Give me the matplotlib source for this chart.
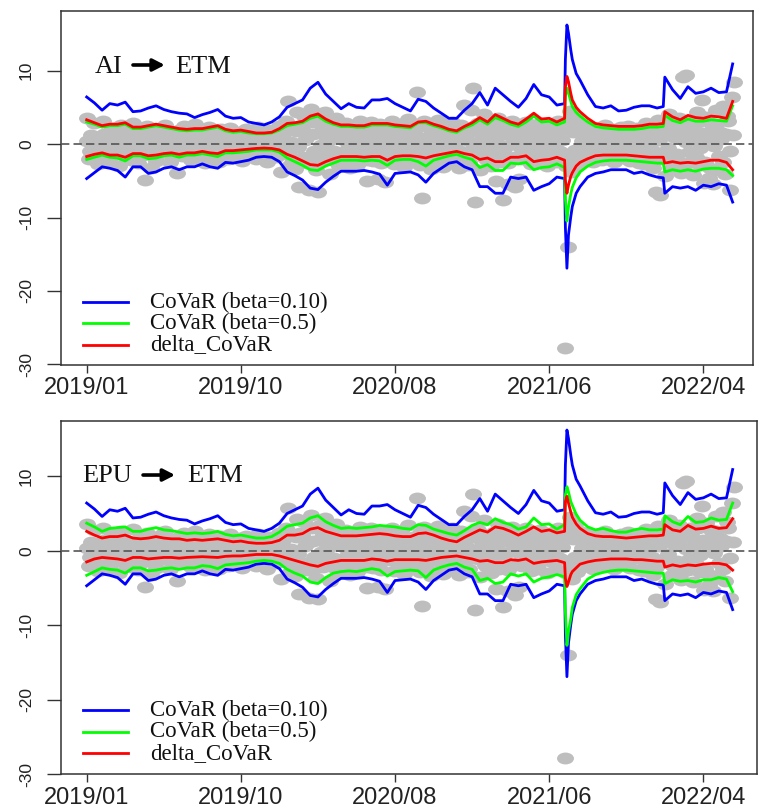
import numpy as np
import matplotlib
matplotlib.use("Agg")
import matplotlib.pyplot as plt
from matplotlib.path import Path
from matplotlib.transforms import Affine2D

plt.rcParams["axes.unicode_minus"] = False
SERIF = "Liberation Serif"
SANS = "Liberation Sans"

# trading-day index of the sampled line values
idx = [0, 10, 20, 30, 40, 50, 60, 70, 80, 90,
       100, 110, 120, 130, 140, 150, 160, 170, 180, 190,
       200, 210, 220, 230, 240, 250, 260, 270, 280, 290,
       300, 310, 320, 330, 340, 350, 360, 370, 380, 390,
       400, 410, 420, 430, 440, 450, 460, 470, 480, 490,
       500, 510, 520, 530, 540, 550, 560, 570, 580, 590,
       600, 610,
       620, 621, 623, 625, 628, 630, 635,
       640, 650, 660, 670, 680, 690, 700, 710, 720, 730, 740,
       748, 750,
       760, 770, 780, 790, 800, 810, 820, 830,
       838]

# CoVaR beta=0.10 (same in both panels)
blue_up = [6.4, 5.6, 4.6, 5.5, 5.3, 5.7, 4.4, 4.5, 4.9, 5.2,
           4.7, 4.4, 4.2, 4.1, 3.6, 4.0, 4.3, 4.7, 3.8, 3.5,
           3.6, 3.0, 2.8, 2.6, 3.0, 3.7, 5.0, 5.5, 6.0, 7.6,
           8.4, 6.8, 5.8, 4.8, 5.5, 5.0, 4.9, 6.0, 6.0, 6.2,
           5.5, 5.0, 4.5, 6.1, 5.8, 4.9, 4.2, 3.5, 3.5, 4.6,
           5.5, 7.0, 5.3, 7.6, 6.7, 5.8, 5.0, 6.2, 8.1, 6.7,
           6.4, 5.3,
           5.5, 11.5, 16.2, 15.1, 12.8, 11.5, 9.6,
           8.7, 6.7, 5.1, 4.9, 5.2, 4.5, 4.6, 5.0, 5.2, 5.2, 4.9,
           5.1, 9.1,
           7.4, 6.2, 7.8, 6.9, 7.1, 7.6, 7.0, 7.1,
           10.9]
blue_lo = [-4.7, -3.9, -3.1, -3.3, -3.6, -4.5, -3.1, -3.1, -4.0, -3.8,
           -3.3, -3.1, -3.5, -3.1, -3.1, -2.7, -3.1, -3.3, -2.5, -2.6,
           -2.4, -2.2, -1.8, -1.7, -1.8, -2.4, -3.8, -4.3, -4.9, -6.0,
           -6.2, -5.2, -4.4, -3.7, -3.7, -3.7, -3.6, -3.8, -4.1, -5.6,
           -4.0, -3.9, -3.8, -4.2, -5.2, -4.0, -3.3, -2.6, -2.4, -3.1,
           -3.5, -5.8, -5.8, -6.7, -6.7, -4.5, -4.7, -4.5, -6.3, -5.8,
           -5.4, -4.5,
           -4.7, -11.3, -16.9, -12.4, -9.9, -8.5, -6.7,
           -5.8, -4.5, -4.0, -3.8, -3.5, -3.5, -3.5, -4.0, -3.8, -4.2, -4.5,
           -4.6, -6.7,
           -5.8, -6.0, -5.8, -6.3, -5.6, -5.8, -5.4, -5.6,
           -7.9]

# AI -> ETM
ai_green_up = [3.0, 2.7, 2.3, 2.5, 2.5, 2.7, 2.1, 2.1, 2.3, 2.5,
               2.3, 2.1, 1.9, 1.8, 1.9, 1.9, 2.1, 2.3, 1.8, 1.6,
               1.7, 1.5, 1.4, 1.4, 1.5, 1.9, 2.5, 2.7, 2.9, 3.5,
               3.8, 3.1, 2.7, 2.4, 2.4, 2.3, 2.3, 2.6, 2.6, 2.6,
               2.4, 2.3, 2.2, 2.9, 2.9, 2.5, 2.2, 1.8, 1.6, 2.2,
               2.6, 3.3, 2.7, 3.6, 3.2, 2.7, 2.4, 3.0, 3.8, 3.0,
               3.1, 2.6,
               3.0, 6.5, 7.6, 7.0, 5.8, 5.1, 4.3,
               3.8, 3.0, 2.4, 2.2, 2.1, 2.0, 2.0, 2.0, 2.1, 2.3, 2.3,
               2.4, 3.9,
               3.2, 2.9, 3.4, 3.1, 3.1, 3.3, 3.2, 3.1,
               5.2]
ai_green_lo = [-2.1, -1.8, -1.5, -1.8, -1.9, -2.3, -1.6, -1.6, -2.0, -1.9,
               -1.6, -1.5, -1.8, -1.5, -1.5, -1.3, -1.5, -1.7, -1.2, -1.2,
               -1.1, -1.0, -0.8, -0.8, -0.8, -1.1, -1.9, -2.4, -2.9, -3.5,
               -3.6, -3.0, -2.6, -2.2, -2.2, -2.2, -2.3, -2.2, -2.3, -2.9,
               -2.2, -2.1, -2.1, -2.4, -3.0, -2.2, -1.9, -1.6, -1.4, -1.8,
               -2.1, -3.2, -2.8, -3.6, -3.6, -2.6, -2.7, -2.5, -3.5, -3.2,
               -3.1, -2.7,
               -3.2, -7.5, -10.5, -8.6, -6.8, -5.9, -4.6,
               -3.8, -3.0, -2.5, -2.3, -2.2, -2.2, -2.2, -2.3, -2.4, -2.5, -2.6,
               -2.6, -3.8,
               -3.5, -3.7, -3.5, -3.7, -3.4, -3.3, -3.3, -3.5,
               -4.3]
ai_red_up = [3.3, 2.9, 2.5, 2.7, 2.7, 2.9, 2.3, 2.3, 2.5, 2.7,
             2.5, 2.3, 2.1, 2.0, 2.1, 2.1, 2.3, 2.5, 2.0, 1.8,
             1.9, 1.7, 1.5, 1.5, 1.6, 2.1, 2.8, 2.9, 3.1, 3.8,
             4.1, 3.4, 2.9, 2.6, 2.6, 2.5, 2.5, 2.8, 2.8, 2.8,
             2.6, 2.5, 2.4, 3.0, 3.1, 2.7, 2.4, 2.0, 1.8, 2.4,
             2.9, 3.6, 3.0, 4.0, 3.5, 3.0, 2.7, 3.4, 4.2, 3.4,
             3.5, 3.0,
             3.5, 7.8, 9.2, 8.5, 6.9, 6.0, 5.0,
             4.4, 3.5, 2.8, 2.6, 2.5, 2.4, 2.4, 2.4, 2.5, 2.7, 2.7,
             2.8, 4.4,
             3.7, 3.3, 3.9, 3.6, 3.5, 3.8, 3.7, 3.5,
             5.8]
ai_red_lo = [-1.7, -1.4, -1.2, -1.5, -1.5, -1.8, -1.3, -1.3, -1.6, -1.5,
             -1.3, -1.2, -1.4, -1.2, -1.2, -1.0, -1.2, -1.3, -0.9, -0.9,
             -0.8, -0.7, -0.6, -0.55, -0.6, -0.8, -1.4, -1.8, -2.3, -2.8,
             -2.9, -2.4, -2.0, -1.7, -1.7, -1.7, -1.8, -1.7, -1.7, -2.2,
             -1.7, -1.6, -1.6, -1.7, -1.9, -1.6, -1.4, -1.2, -1.0, -1.3,
             -1.5, -2.1, -1.9, -2.4, -2.4, -1.8, -1.8, -1.6, -2.4, -2.2,
             -2.1, -1.8,
             -2.2, -4.9, -6.7, -5.6, -4.4, -3.9, -3.0,
             -2.5, -2.0, -1.6, -1.5, -1.5, -1.5, -1.5, -1.6, -1.7, -1.8, -1.8,
             -1.8, -2.6,
             -2.4, -2.6, -2.5, -2.6, -2.4, -2.2, -2.2, -2.5,
             -3.5]

# EPU -> ETM
epu_green_up = [3.7, 3.2, 2.6, 3.0, 3.1, 3.2, 2.6, 2.6, 2.9, 3.1,
                2.8, 2.7, 2.5, 2.3, 2.4, 2.3, 2.4, 2.6, 2.2, 2.0,
                2.1, 1.9, 1.7, 1.7, 1.9, 2.5, 3.3, 3.5, 3.7, 4.4,
                4.7, 3.9, 3.4, 3.0, 3.1, 3.0, 3.1, 3.2, 3.4, 3.3,
                3.2, 3.0, 2.9, 3.5, 3.4, 2.9, 2.6, 2.3, 2.1, 2.7,
                3.4, 3.8, 3.5, 4.3, 3.8, 3.5, 2.9, 3.2, 4.4, 3.5,
                3.6, 2.9,
                3.5, 7.5, 8.6, 7.9, 6.6, 6.1, 4.9,
                4.1, 3.2, 2.8, 3.0, 2.7, 2.5, 2.5, 2.8, 3.0, 2.8, 2.8,
                2.9, 4.7,
                3.9, 3.5, 4.6, 3.8, 3.9, 4.4, 4.1, 4.2,
                6.4]
epu_green_lo = [-3.3, -2.8, -2.3, -2.5, -2.6, -3.0, -2.3, -2.3, -2.7, -2.6,
                -2.4, -2.3, -2.5, -2.3, -2.3, -2.0, -2.1, -2.4, -1.9, -1.8,
                -1.7, -1.6, -1.4, -1.3, -1.4, -1.7, -2.5, -3.0, -3.4, -4.2,
                -4.4, -3.6, -3.0, -2.8, -2.7, -2.8, -2.6, -2.4, -2.6, -3.4,
                -2.8, -2.7, -2.6, -2.7, -3.6, -2.6, -2.2, -1.9, -1.7, -2.2,
                -2.5, -4.0, -3.7, -4.4, -4.2, -3.1, -3.4, -3.1, -4.2, -3.7,
                -3.5, -3.2,
                -3.5, -8.2, -12.7, -10.9, -9.1, -7.6, -5.9,
                -5.1, -3.8, -3.2, -2.9, -2.7, -2.6, -2.6, -2.7, -2.8, -2.9, -3.0,
                -3.0, -4.4,
                -3.9, -4.1, -4.0, -4.2, -3.9, -3.9, -3.6, -3.8,
                -5.5]
epu_red_up = [2.6, 2.1, 1.7, 1.9, 1.9, 2.1, 1.7, 1.6, 1.7, 1.9,
              1.7, 1.6, 1.6, 1.4, 1.5, 1.4, 1.5, 1.6, 1.4, 1.2,
              1.3, 1.1, 1.0, 1.0, 1.1, 1.4, 2.1, 2.1, 2.3, 2.9,
              3.1, 2.6, 2.3, 2.0, 2.0, 2.0, 2.1, 2.2, 2.3, 2.2,
              2.0, 1.9, 1.9, 2.3, 2.4, 2.1, 1.7, 1.4, 1.2, 1.8,
              2.3, 2.8, 2.5, 3.2, 3.0, 2.6, 2.1, 2.6, 3.2, 2.6,
              2.8, 2.4,
              2.6, 6.6, 7.3, 6.4, 5.2, 4.5, 3.6,
              3.0, 2.3, 2.0, 1.9, 1.9, 1.8, 1.7, 1.8, 1.9, 2.0, 2.0,
              2.1, 3.5,
              2.8, 2.6, 3.4, 2.9, 3.0, 3.3, 3.0, 3.1,
              4.3]
epu_red_lo = [-1.5, -1.1, -0.9, -1.0, -1.1, -1.3, -0.9, -0.9, -1.1, -1.0,
              -0.9, -0.9, -1.0, -0.9, -0.85, -0.8, -0.85, -0.9, -0.75, -0.7,
              -0.7, -0.6, -0.5, -0.5, -0.5, -0.7, -1.0, -1.3, -1.6, -1.9,
              -2.1, -1.7, -1.5, -1.3, -1.3, -1.3, -1.3, -1.1, -1.2, -1.4,
              -1.2, -1.2, -1.2, -1.2, -1.3, -1.1, -0.9, -0.8, -0.7, -0.9,
              -1.1, -1.4, -1.3, -1.6, -1.6, -1.2, -1.3, -1.1, -1.7, -1.5,
              -1.4, -1.3,
              -1.6, -3.7, -4.8, -4.2, -3.2, -2.8, -2.3,
              -1.8, -1.5, -1.3, -1.2, -1.1, -1.1, -1.1, -1.2, -1.2, -1.3, -1.4,
              -1.4, -2.2,
              -1.9, -2.1, -1.9, -2.0, -1.8, -1.7, -1.7, -1.9,
              -2.6]

# ETM returns (grey points): days 0,3,6,... and days 1,4,7,...
ret = [3.6, -2.1, 1.2, 2.8, -0.6, -2.7, 0.9, 3.1, -1.5, 0.3,
       -2.4, 2.2, -0.9, 1.7, -3.0, 2.6, 0.5, -1.8, 1.3, -2.2,
       2.9, -0.4, -2.6, 1.9, 0.8, -4.9, 2.4, -1.3, -3.2, 1.6,
       -2.3, 0.7, 2.1, -1.1, 2.6, -0.2, -2.5, 1.4, 0.4, -4.0,
       1.9, -1.6, 2.4, -0.8, 0.2, -2.2, 1.1, 2.7, -1.4, -0.5,
       1.8, -2.6, 0.6, 2.3, -1.9, -0.3, 1.5, -2.4, 2.0, -1.0,
       1.2, -2.1, 2.2, -0.7, 0.5, -1.8, 1.7, -2.3, 0.9, 2.0,
       -1.2, -0.4, 1.5, -2.0, 2.3, 0.2, -1.5, 1.0, -2.4, 1.9,
       -0.6, 0.8, -1.7, 2.4, -3.8, 1.4, 3.1, 5.8, -2.9, 2.2,
       -3.4, 4.3, -5.8, 2.1, 3.8, -1.9, -6.3, 4.8, 1.3, -3.6,
       -6.5, 3.5, -2.2, 4.4, 0.8, -4.1, 2.9, -1.0, 3.6, -3.0,
       1.6, -2.6, 2.8, -0.5, -3.3, 2.5, 1.1, -2.8, 3.2, -1.7,
       2.4, -5.0, 0.7, 3.0, -2.3, 1.5, -4.8, 2.7, -1.2, -5.2,
       2.0, -0.6, 3.1, -2.7, 1.3, -1.8, 2.6, -3.1, 0.9, 3.4,
       -2.1, 1.8, -0.8, 7.1, -2.9, -7.4, 3.2, -1.5, 2.3, -3.4,
       1.4, -2.8, 3.3, -0.7, -3.1, 2.1, 0.4, -2.4, 3.0, -1.6,
       1.9, -3.3, 2.6, 5.3, -1.1, -2.9, 4.6, 7.6, -7.9, 2.8,
       -3.5, 1.2, 4.1, -2.2, 0.6, -3.0, 2.5, -5.1, 3.6, -1.4,
       -7.6, 2.9, -5.4, 1.6, 3.2, -5.9, 0.8, -4.8, 2.5, -1.9,
       3.0, -0.9, -2.7, 2.2, 1.1, -2.4, 2.8, -1.3, 0.5, -3.0,
       2.4, -0.6, 1.7, -2.5, 3.1, -1.1, 2.0, -27.8, -14.0, 4.5,
       -3.8, 3.6, -2.9, 2.7, -2.2, 1.3, 2.4, -1.6, 0.7, -2.5,
       2.1, -0.8, 1.5, -2.2, 2.6, 0.3, -1.7, 2.0, -2.4, 1.1,
       -0.5, 2.3, -1.9, 0.9, 2.5, -2.3, 1.4, -1.0, 2.2, -2.6,
       1.8, -2.7, 2.9, -1.4, 0.6, -3.2, -6.5, 3.3, -6.9, 1.9,
       -4.4, 2.6, 4.1, -3.3, 0.9, -2.1, 3.5, -3.9, 9.1, 9.4,
       -2.6, 3.0, -4.2, 1.5, 4.4, -2.8, 6.0, -5.3, 3.7, -4.6,
       2.8, -5.4, 4.6, -3.6, 1.7, 5.2, -4.1, 3.8, -6.3, 6.4,
       8.5]
ret_b = [0.4, -0.9, 1.1, -0.3, 0.7, -1.3, 0.1, 1.4, -0.6, -1.1,
         0.9, -0.2, 1.2, -1.4, 0.5, -0.7, 1.6, 0.0, -1.2, 0.6,
         -0.4, 1.3, -1.0, 0.3, -1.5, 0.8, -0.1, 1.0, -0.8, 1.5,
         -1.3, 0.2, 0.9, -0.5, 1.2, -1.1, 0.4, -0.2, 1.4, -0.9,
         0.6, -1.4, 0.1, 1.1, -0.6, 0.8, -1.0, 1.3, -0.3, -1.2,
         0.7, 1.2, -0.8, 0.2, -1.3, 1.0, -0.4, 0.5, -1.1, 1.4,
         -0.2, -0.9, 1.1, 0.3, -1.4, 0.6, 1.3, -0.7, 0.0, -1.0,
         1.2, -0.5, 0.8, -1.2, 0.4, 1.0, -0.3, -1.3, 0.9, 0.1,
         -0.8, 1.3, -1.1, 0.5, 1.6, -0.6, 2.1, -1.5, 0.3, -2.0,
         1.8, -0.4, 2.4, -1.7, 0.6, -2.6, 1.2, 3.0, -0.9, -2.2,
         1.5, -0.2, 2.2, -1.6, 0.4, -1.0, 1.9, -2.3, 0.8, 1.3,
         -1.2, 0.5, 1.7, -0.8, 0.1, -1.9, 1.1, -0.4, 2.0, -1.4,
         0.8, -2.2, 1.4, -0.5, 2.1, -1.1, 0.3, -2.6, 1.0, -0.2,
         1.6, -1.3, 0.6, -0.9, 2.2, -0.1, -1.6, 1.2, -0.7, 0.4,
         -1.8, 1.5, 0.2, -1.2, 2.4, -0.4, -1.9, 1.0, 0.6, -1.3,
         2.0, -0.6, 1.2, -1.7, 0.3, 1.6, -1.0, 0.8, -2.1, 0.1,
         1.3, -0.9, 2.2, -1.5, 0.5, -2.4, 1.8, -0.3, 2.6, -1.1,
         0.4, 1.7, -1.9, 0.9, -0.5, 2.1, -1.3, 0.2, -2.5, 1.4,
         -0.7, 2.2, -2.6, 1.1, 0.3, -1.8, 1.6, -0.4, -2.0, 0.8,
         1.5, -1.2, 0.6, -0.3, 1.9, -1.6, 0.2, 1.0, -0.9, 2.1,
         -1.4, 0.7, -0.1, 1.3, -1.0, 0.5, 2.0, -3.0, 3.2, -2.0,
         1.6, -0.8, 2.2, -1.7, 0.4, -0.2, 1.1, -1.3, 0.6, -0.5,
         1.0, -1.1, 0.2, 1.4, -0.7, 0.8, -1.4, 0.3, -0.1, 1.2,
         -0.9, 0.5, -1.2, 1.1, 0.0, -0.6, 1.5, -1.0, 0.7, -0.3,
         1.3, -1.5, 0.4, 2.0, -0.8, 1.0, -2.2, 0.6, 2.3, -1.2,
         1.7, -0.5, 2.6, -2.0, 0.9, -1.4, 1.2, 2.0, -2.7, 0.3,
         -1.1, 2.4, 0.5, -1.8, 3.0, -0.6, 1.5, -2.4, 0.8, -3.2,
         1.9, -0.3, 2.7, -1.6, 0.7, -2.5, 1.3, 3.1, -1.0, 1.2]
ret_day = np.arange(0, 3 * len(ret), 3)
ret_b_day = np.arange(1, 3 * len(ret_b), 3)

date_ticks = [0, 200, 400, 600, 800]
date_labels = ["2019/01", "2019/10", "2020/08", "2021/06", "2022/04"]
y_ticks = [10, 0, -10, -20, -30]
y_labels = ["10", "0", "-10", "-20", "-30"]
legend_labels = ["CoVaR (beta=0.10)", "CoVaR (beta=0.5)", "delta_CoVaR"]

ELLIPSE = Path.unit_circle().transformed(Affine2D().scale(1.0, 0.7))
BLUE, GREEN, RED, GREY = "#0000FF", "#00FF00", "#FF0000", "#BEBEBE"


def panel(ax, src, g_up, g_lo, r_up, r_lo, ylim, xlim, txt, leg):
    for xd, yd in ((ret_day, ret), (ret_b_day, ret_b)):
        ax.plot(xd, yd, ls="none", marker=ELLIPSE, ms=12.2,
                color=GREY, mec="none", zorder=1)
    for ys in (blue_up, blue_lo):
        ax.plot(idx, ys, color=BLUE, lw=2.0, zorder=2)
    for ys in (g_up, g_lo):
        ax.plot(idx, ys, color=GREEN, lw=2.0, zorder=3)
    for ys in (r_up, r_lo):
        ax.plot(idx, ys, color=RED, lw=2.0, zorder=4)
    ax.axhline(0, color="#555555", lw=1.2, ls=(0, (5, 2.5)), zorder=5)

    ax.set_xlim(*xlim)
    ax.set_ylim(*ylim)
    ax.set_xticks(date_ticks, date_labels)
    ax.set_yticks(y_ticks, y_labels)
    ax.tick_params(axis="x", length=5.8, width=1.0, pad=3, labelsize=17,
                   color="#333333", labelcolor="#222222")
    ax.tick_params(axis="y", length=10, width=1.0, pad=9.5, labelsize=12.5,
                   color="#333333", labelcolor="#222222")
    for lab in ax.get_xticklabels() + ax.get_yticklabels():
        lab.set_fontfamily(SANS)
    plt.setp(ax.get_yticklabels(), rotation=90, va="center")
    for s in ax.spines.values():
        s.set_color("#333333")
        s.set_linewidth(1.1)

    # "X -> ETM" label
    x_src, x_a0, x_a1, x_dst, y_base, y_arr = txt
    ax.text(x_src, y_base, src, transform=ax.transAxes, family=SERIF,
            fontsize=19, va="baseline", ha="left", color="#111111")
    ax.annotate("", xy=(x_a1, y_arr), xytext=(x_a0, y_arr),
                xycoords="axes fraction",
                arrowprops=dict(arrowstyle="-|>,head_length=0.35,head_width=0.18",
                                lw=2.6, color="black", shrinkA=0, shrinkB=0,
                                mutation_scale=20))
    ax.text(x_dst, y_base, "ETM", transform=ax.transAxes, family=SERIF,
            fontsize=19, va="baseline", ha="left", color="#111111")

    # legend
    lx0, lx1, tx, rows = leg
    for col, lab, yf in zip((BLUE, GREEN, RED), legend_labels, rows):
        ax.plot([lx0, lx1], [yf, yf], transform=ax.transAxes, color=col, lw=2.0)
        ax.text(tx, yf, lab, transform=ax.transAxes, family=SERIF,
                fontsize=16.5, va="center", ha="left", color="#111111")


fig = plt.figure(figsize=(7.58, 8.10), dpi=100)
ax1 = fig.add_axes([0.0805, 0.5494, 0.9129, 0.4370])
ax2 = fig.add_axes([0.0805, 0.0441, 0.9178, 0.4365])

panel(ax1, "AI", ai_green_up, ai_green_lo, ai_red_up, ai_red_lo,
      (-30.07, 18.1), (-33.3, 864.4),
      (0.049, 0.104, 0.150, 0.1647, 0.8257, 0.8475),
      (0.0318, 0.0968, 0.1286, (0.178, 0.1186, 0.0565)))
panel(ax2, "EPU", epu_green_up, epu_green_lo, epu_red_up, epu_red_lo,
      (-30.0, 17.45), (-33.3, 869.2),
      (0.0302, 0.1179, 0.1639, 0.1811, 0.8275, 0.8464),
      (0.0316, 0.0963, 0.1279, (0.1818, 0.1204, 0.0594)))

fig.savefig("out.png", dpi=100)
